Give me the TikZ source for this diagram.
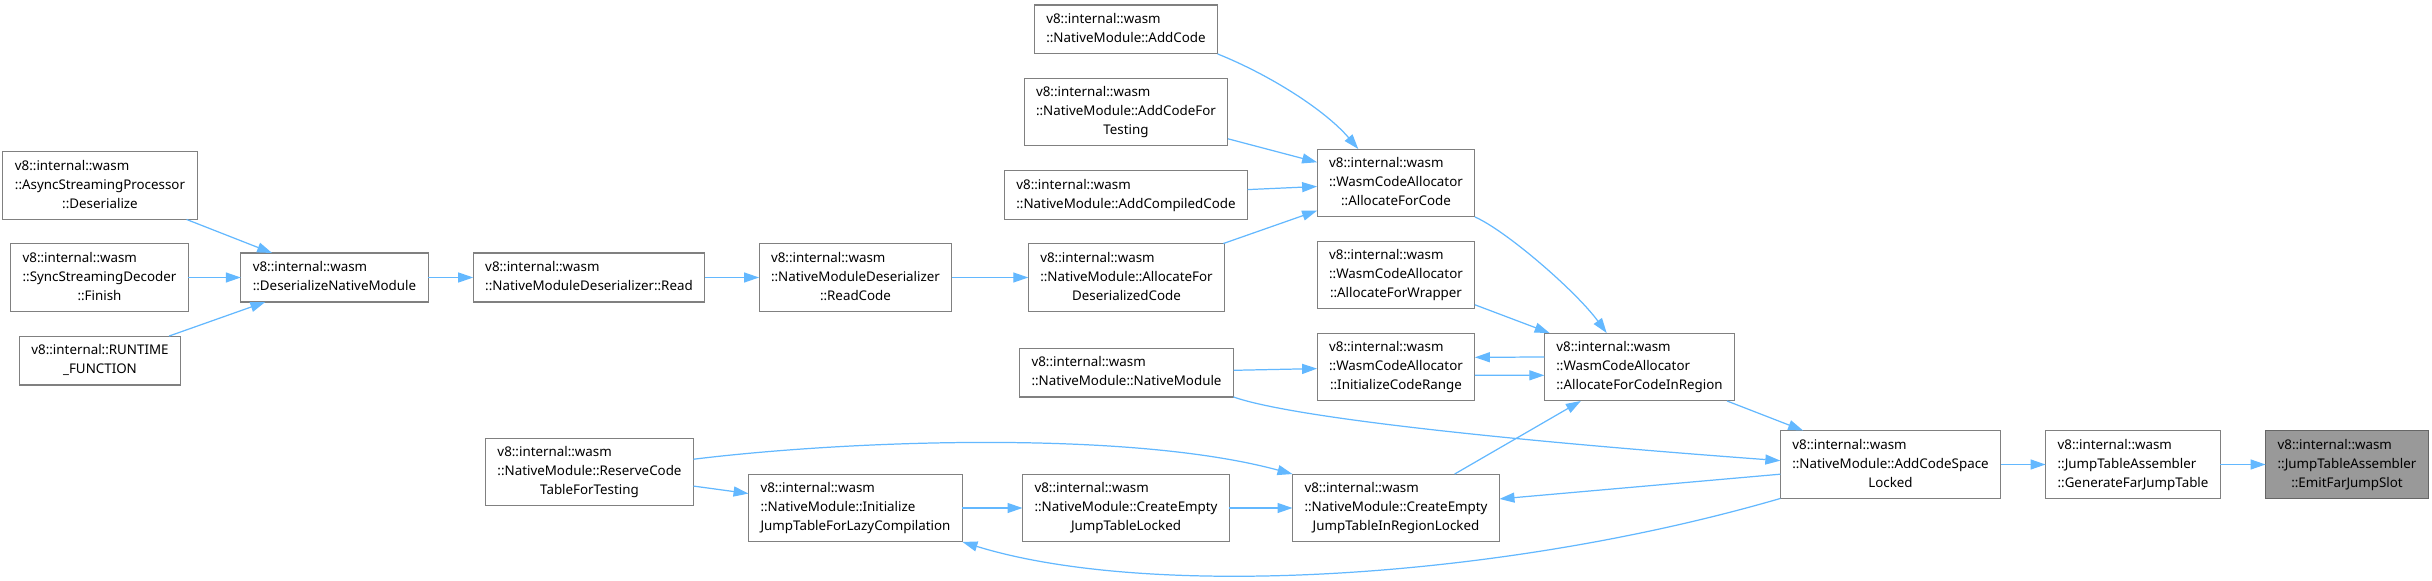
\documentclass[tikz,border=0pt]{standalone}
\usepackage{fontspec}
\setmainfont{Noto Sans}
\usetikzlibrary{arrows.meta}
\definecolor{edgeblue}{RGB}{99,184,255}
\newcommand{\fnlines}[2]{\begin{tabular}{@{}l@{}}#1\\\multicolumn{1}{@{}c@{}}{#2}\end{tabular}}

\begin{document}
\begin{tikzpicture}[x=0.02cm, y=-0.02cm,
    every node/.style={draw=black!50, line width=0.6pt, fill=white, inner xsep=0.24cm, inner ysep=0.11cm, outer sep=0pt, font=\fontsize{7.6}{10.8}\selectfont},
    callarrow/.style={draw=edgeblue, line width=0.7pt, -{Triangle[length=0.3cm, width=0.2cm]}}]
    \useasboundingbox (0,0) rectangle (2432,581);
    \node (async) at (100,185.5) {\fnlines{v8::internal::wasm\\::AsyncStreamingProcessor}{::Deserialize}};
    \node (sync) at (99.5,277.5) {\fnlines{v8::internal::wasm\\::SyncStreamingDecoder}{::Finish}};
    \node (runtime) at (100,360.5) {\fnlines{v8::internal::RUNTIME}{\_FUNCTION}};
    \node (deser) at (334.5,277.5) {\fnlines{v8::internal::wasm}{::DeserializeNativeModule}};
    \node (read) at (589,277.5) {\fnlines{v8::internal::wasm}{::NativeModuleDeserializer::Read}};
    \node (readcode) at (855.5,277.5) {\fnlines{v8::internal::wasm\\::NativeModuleDeserializer}{::ReadCode}};
    \node (allocdeser) at (1126.5,277.5) {\fnlines{v8::internal::wasm\\::NativeModule::AllocateFor}{DeserializedCode}};
    \node (addcode) at (1126,29.5) {\fnlines{v8::internal::wasm}{::NativeModule::AddCode}};
    \node (addtesting) at (1126,112) {\fnlines{v8::internal::wasm\\::NativeModule::AddCodeFor}{Testing}};
    \node (addcompiled) at (1126,195) {\fnlines{v8::internal::wasm}{::NativeModule::AddCompiledCode}};
    \node (allocforcode) at (1396,183) {\fnlines{v8::internal::wasm\\::WasmCodeAllocator}{::AllocateForCode}};
    \node (allocwrapper) at (1396,275) {\fnlines{v8::internal::wasm\\::WasmCodeAllocator}{::AllocateForWrapper}};
    \node (initrange) at (1396,367) {\fnlines{v8::internal::wasm\\::WasmCodeAllocator}{::InitializeCodeRange}};
    \node (region) at (1639.5,367) {\fnlines{v8::internal::wasm\\::WasmCodeAllocator}{::AllocateForCodeInRegion}};
    \node (nativemodule) at (1126.5,372.5) {\fnlines{v8::internal::wasm}{::NativeModule::NativeModule}};
    \node (reserve) at (589.5,472) {\fnlines{v8::internal::wasm\\::NativeModule::ReserveCode}{TableForTesting}};
    \node (initlazy) at (855.5,508) {\fnlines{v8::internal::wasm\\::NativeModule::Initialize}{JumpTableForLazyCompilation}};
    \node (ctlocked) at (1126,508) {\fnlines{v8::internal::wasm\\::NativeModule::CreateEmpty}{JumpTableLocked}};
    \node (ctregion) at (1396,508) {\fnlines{v8::internal::wasm\\::NativeModule::CreateEmpty}{JumpTableInRegionLocked}};
    \node (addspace) at (1890.5,464.5) {\fnlines{v8::internal::wasm\\::NativeModule::AddCodeSpace}{Locked}};
    \node (genfar) at (2133,464.5) {\fnlines{v8::internal::wasm\\::JumpTableAssembler}{::GenerateFarJumpTable}};
    \node[fill=black!40, draw=black!60] (emit) at (2347,464.5) {\fnlines{v8::internal::wasm\\::JumpTableAssembler}{::EmitFarJumpSlot}};
    \draw[callarrow] (async) -- (deser);
    \draw[callarrow] (sync) -- (deser);
    \draw[callarrow] (runtime) -- (deser);
    \draw[callarrow] (deser) -- (read);
    \draw[callarrow] (read) -- (readcode);
    \draw[callarrow] (readcode) -- (allocdeser);
    \draw[callarrow] (allocdeser) -- (allocforcode);
    \draw[callarrow] (addcode.south east) .. controls (1270,75) and (1325,110) .. (allocforcode.138);
    \draw[callarrow] (addtesting) -- (allocforcode);
    \draw[callarrow] (addcompiled) -- (allocforcode);
    \draw[callarrow] (allocforcode.south east) .. controls (1505,230) and (1575,290) .. (region.134);
    \draw[callarrow] (allocwrapper) -- (region);
    \draw[callarrow] (region.174) -- (initrange.7);
    \draw[callarrow] (initrange.-6) -- (region.185);
    \draw[callarrow] (nativemodule) -- (initrange);
    \draw[callarrow] (nativemodule.south east) .. controls (1290,417) and (1500,440) .. (addspace.178);
    \draw[callarrow] (region) -- (addspace);
    \draw[callarrow] (ctregion) -- (region);
    \draw[callarrow] (addspace) -- (ctregion);
    \draw[callarrow] (addspace.south west) .. controls (1500,580) and (1150,600) .. (initlazy.south east);
    \draw[callarrow] (reserve.7) .. controls (850,440) and (1130,430) .. (ctregion.north west);
    \draw[callarrow] (reserve) -- (initlazy);
    \draw[callarrow] (initlazy) -- (ctlocked);
    \draw[callarrow] (ctlocked) -- (ctregion);
    \draw[callarrow] (addspace) -- (genfar);
    \draw[callarrow] (genfar) -- (emit);
\end{tikzpicture}
\end{document}
